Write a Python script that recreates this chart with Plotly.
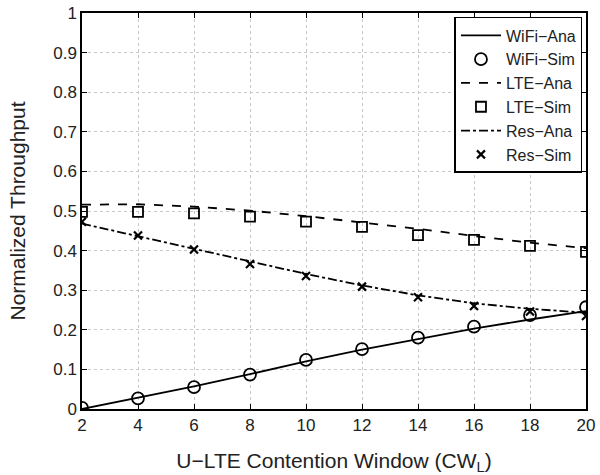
import plotly.graph_objects as go

cw = [2, 4, 6, 8, 10, 12, 14, 16, 18, 20]
wifi_ana = [0.0, 0.028, 0.057, 0.088, 0.12, 0.15, 0.177, 0.203, 0.226, 0.247]
wifi_sim = [0.003, 0.027, 0.055, 0.087, 0.124, 0.151, 0.180, 0.208, 0.237, 0.257]
lte_ana = [0.516, 0.517, 0.511, 0.501, 0.487, 0.471, 0.455, 0.437, 0.42, 0.406]
lte_sim = [0.498, 0.498, 0.494, 0.486, 0.473, 0.460, 0.439, 0.427, 0.412, 0.397]
res_ana = [0.468, 0.436, 0.404, 0.372, 0.341, 0.312, 0.287, 0.267, 0.253, 0.243]
res_sim = [0.473, 0.438, 0.403, 0.366, 0.336, 0.309, 0.282, 0.260, 0.246, 0.235]

xticks = [2, 4, 6, 8, 10, 12, 14, 16, 18, 20]
yticks = [0, 0.1, 0.2, 0.3, 0.4, 0.5, 0.6, 0.7, 0.8, 0.9, 1]
ytick_labels = ["0", "0.1", "0.2", "0.3", "0.4", "0.5", "0.6", "0.7", "0.8", "0.9", "1"]

fig = go.Figure()
lw = 1.8
fig.add_trace(go.Scatter(x=cw, y=wifi_ana, mode="lines", name="WiFi\u2212Ana",
                         line=dict(color="black", width=lw)))
fig.add_trace(go.Scatter(x=cw, y=wifi_sim, mode="markers", name="WiFi\u2212Sim",
                         marker=dict(symbol="circle-open", size=12, color="black",
                                     line=dict(width=1.8, color="black"))))
fig.add_trace(go.Scatter(x=cw, y=lte_ana, mode="lines", name="LTE\u2212Ana",
                         line=dict(color="black", width=lw, dash="dash")))
fig.add_trace(go.Scatter(x=cw, y=lte_sim, mode="markers", name="LTE\u2212Sim",
                         marker=dict(symbol="square-open", size=10, color="black",
                                     line=dict(width=1.8, color="black"))))
fig.add_trace(go.Scatter(x=cw, y=res_ana, mode="lines", name="Res\u2212Ana",
                         line=dict(color="black", width=lw, dash="dashdot")))
fig.add_trace(go.Scatter(x=cw, y=res_sim, mode="markers", name="Res\u2212Sim",
                         marker=dict(symbol="x-thin-open", size=8, color="black",
                                     line=dict(width=2.2, color="black"))))

axis_common = dict(
    showline=True, linecolor="black", linewidth=1.5, mirror="ticks",
    ticks="inside", ticklen=5, tickwidth=1, tickcolor="black",
    showgrid=True, gridcolor="#c8c8c8", gridwidth=1, griddash="dot",
    zeroline=False, tickfont=dict(size=17, color="#222"), automargin=False,
)

fig.update_xaxes(range=[2, 20], tickvals=xticks,
                 title=dict(text="U\u2212LTE Contention Window (CW<sub>L</sub>)",
                            font=dict(size=21, color="#222"), standoff=20),
                 **axis_common)
fig.update_yaxes(range=[0, 1], tickvals=yticks, ticktext=ytick_labels,
                 title=dict(text="Normalized Throughput",
                            font=dict(size=21, color="#222"), standoff=22),
                 **axis_common)

fig.update_layout(
    width=600, height=475,
    margin=dict(l=82, r=14, t=13, b=66),
    paper_bgcolor="white", plot_bgcolor="white",
    font=dict(family="Liberation Sans, Arial, sans-serif", color="#222", size=17),
    legend=dict(x=0.993, y=0.99, xanchor="right", yanchor="top",
                bgcolor="white", bordercolor="black", borderwidth=1.5,
                font=dict(size=16, color="#222"), tracegroupgap=0,
                itemwidth=40),
    showlegend=True,
)

fig.write_html("out.html")
